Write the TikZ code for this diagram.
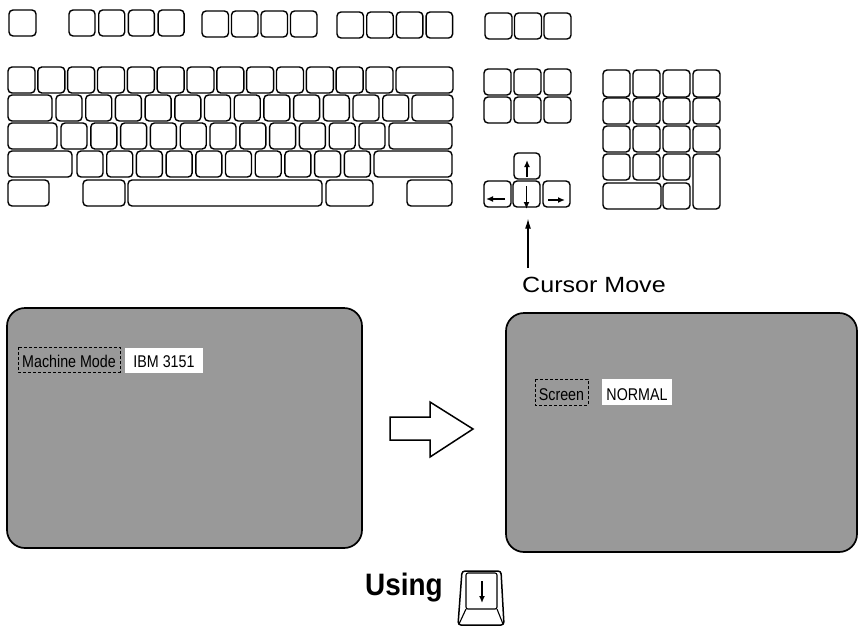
\documentclass[tikz,border=0pt]{standalone}
\usepackage{fontspec}
\setmainfont{Liberation Sans}
\newfontfamily\condfont[FakeStretch=0.84]{Liberation Sans}
\newfontfamily\widefont[FakeStretch=1.14]{Liberation Sans}
\newfontfamily\usingfont[FakeStretch=0.9]{Liberation Sans}
\usetikzlibrary{arrows.meta}
\tikzset{
  keybox/.style={draw=black, line width=1.4pt, rounded corners=4pt},
  screenbox/.style={draw=black, line width=1.7pt, rounded corners=18pt, fill=black!40},
  labelbox/.style={draw=black, line width=1pt, densely dashed},
  whitebox/.style={fill=white},
  keyarrow/.style={line width=1.4pt, -{Latex[length=7pt,width=6pt]}},
  callout/.style={line width=1.1pt, -{Latex[length=10pt,width=6pt]}},
  smalltext/.style={inner sep=0pt, font=\condfont\fontsize{17}{20}\selectfont},
}
\begin{document}
\begin{tikzpicture}[x=1pt,y=-1pt]
\useasboundingbox (0,0) rectangle (858,627);

% ---------- function key row ----------
\draw[keybox] (9,10) rectangle (36,36);
\foreach \i in {0,...,3} {\draw[keybox] ({69+29.7*\i},10) rectangle ++(26,26);}
\foreach \i in {0,...,3} {\draw[keybox] ({202+29.5*\i},11) rectangle ++(26.5,26);}
\foreach \i in {0,...,3} {\draw[keybox] ({337+29.7*\i},12) rectangle ++(26.5,26);}
\foreach \i in {0,...,2} {\draw[keybox] ({485+29.5*\i},13) rectangle ++(27,26);}

% ---------- main block ----------
% row 1
\foreach \i in {0,...,12} {\draw[keybox] ({8+29.83*\i},67) rectangle ++(27,26);}
\draw[keybox] (396,67) rectangle (453,93);
% row 2
\draw[keybox] (8,95) rectangle (52,121);
\foreach \i in {0,...,11} {\draw[keybox] ({56+29.7*\i},95) rectangle ++(26,26);}
\draw[keybox] (412,95) rectangle (453,121);
% row 3
\draw[keybox] (8,123) rectangle (57,149);
\foreach \i in {0,...,10} {\draw[keybox] ({61+29.8*\i},123) rectangle ++(26,26);}
\draw[keybox] (389,123) rectangle (452,149);
% row 4
\draw[keybox] (8,151) rectangle (72,177);
\foreach \i in {0,...,9} {\draw[keybox] ({77+29.7*\i},151) rectangle ++(26,26);}
\draw[keybox] (374,151) rectangle (452,177);
% row 5
\draw[keybox] (8,180) rectangle (49,206);
\draw[keybox] (83,180) rectangle (125,206);
\draw[keybox] (128,180) rectangle (322,206);
\draw[keybox] (326,180) rectangle (373,206);
\draw[keybox] (407,180) rectangle (452,206);

% ---------- editing block ----------
\foreach \i in {0,...,2} {
  \draw[keybox] ({484+30*\i},69) rectangle ++(27,26);
  \draw[keybox] ({484+30*\i},97) rectangle ++(27,26);
}
% cursor keys
\node[keybox, minimum width=26pt, minimum height=26pt, inner sep=0pt] (up) at (527,166) {};
\node[keybox, minimum width=27pt, minimum height=26pt, inner sep=0pt] (left) at (497.5,194) {};
\node[keybox, minimum width=27pt, minimum height=26pt, inner sep=0pt] (down) at (526.5,194) {};
\node[keybox, minimum width=27pt, minimum height=26pt, inner sep=0pt] (right) at (556.5,194) {};
\draw[keyarrow] (527,177) -- (527,160);
\draw[keyarrow] (505,199) -- (486,199);
\draw[keyarrow] (526.5,186) -- (526.5,209);
\draw[keyarrow] (548,200) -- (565,200);

% ---------- numeric pad ----------
\foreach \i in {0,...,3} {
  \draw[keybox] ({603+30*\i},70) rectangle ++(27,27);
  \draw[keybox] ({603+30*\i},98) rectangle ++(27,26);
  \draw[keybox] ({603+30*\i},126) rectangle ++(27,26);
}
\foreach \i in {0,...,2} {\draw[keybox] ({603+30*\i},154) rectangle ++(27,26);}
\draw[keybox] (693,154) rectangle (720,209);
\draw[keybox] (603,183) rectangle (661,209);
\draw[keybox] (663,183) rectangle (690,209);

% ---------- callout ----------
\node[inner sep=0pt, anchor=base west, font=\widefont\fontsize{22}{26}\selectfont] (cm) at (522,292) {Cursor Move};
\coordinate (cmtail) at (528,268);
\draw[callout] (cmtail) -- ([xshift=1.5pt,yshift=-11pt]down.south);

% ---------- screens ----------
\draw[screenbox] (7,308) rectangle (362,548);
\draw[screenbox] (506,313) rectangle (857,552);

\draw[labelbox] (18,347) rectangle (120,372);
\node[smalltext, anchor=base] (mm) at (69,367) {Machine Mode};
\fill[whitebox] (125,348) rectangle (203,373);
\node[smalltext, anchor=base] (ibm) at (164,367) {IBM 3151};

\draw[labelbox] (535,379) rectangle (588,405);
\node[smalltext, anchor=base] (scr) at (561.5,400) {Screen};
\fill[whitebox] (602,379) rectangle (672,405);
\node[smalltext, anchor=base] (nrm) at (637,400) {NORMAL};

% ---------- hollow arrow ----------
\draw[line width=1.5pt, fill=white, line join=miter]
  (390,417) -- (430,417) -- (430,402) -- (473,429) -- (430,457) -- (430,440) -- (390,440) -- cycle;

% ---------- Using key ----------
\node[inner sep=0pt, anchor=base west, font=\usingfont\bfseries\fontsize{31}{36}\selectfont] (using) at (365,595) {Using};
\draw[line width=1.5pt, rounded corners=3pt] (458,625) -- (462,571) -- (501,571) -- (504,625) -- cycle;
\draw[line width=1.1pt, rounded corners=2pt] (466,573) -- (497,573) -- (497,609) -- (466,609) -- cycle;
\draw[line width=1.1pt] (466,609) -- (459,624);
\draw[line width=1.1pt] (497,609) -- (503,624);
\draw[keyarrow, line width=1.6pt] (482,581) -- (482,603);
\end{tikzpicture}
\end{document}
